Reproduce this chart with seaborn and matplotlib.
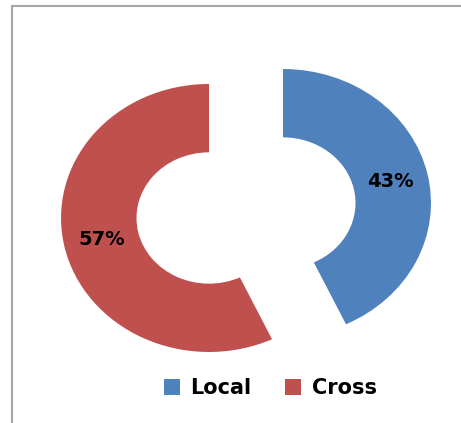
import matplotlib
matplotlib.use("Agg")
import matplotlib.pyplot as plt
from matplotlib.patches import Rectangle
from matplotlib.lines import Line2D
import seaborn as sns

# Share of links by type
categories = ["Local", "Cross"]
shares = [43, 57]
colors = ["#4F81BD", "#C0504D"]

sns.set_theme(style="white")
plt.rcParams["font.family"] = ["DejaVu Sans"]

W, H = 461, 423
fig = plt.figure(figsize=(W / 100, H / 100), dpi=100)
fig.patch.set_facecolor("white")

ax = fig.add_axes([0, 0, 1, 1])
wedges, texts, autotexts = ax.pie(
    shares,
    colors=colors,
    startangle=90,
    counterclock=False,
    explode=[0.256, 0.256],
    autopct="%.0f%%",
    pctdistance=0.745,
    wedgeprops=dict(width=0.51, linewidth=0),
    textprops=dict(fontsize=14, fontweight="heavy", color="black"),
)
# the plotted pie is wider than it is tall
ax.set_aspect("auto")
rx, ry = 148.0, 134.0
cx, cy = 246.0, 210.5
ax.set_xlim(-cx / rx, (W - cx) / rx)
ax.set_ylim(-(H - cy) / ry, cy / ry)
ax.axis("off")

# outer frame (runs off the right and bottom edges)
frame = Rectangle((11.5 / W, -0.05), 1.2, 1 - 6.5 / H + 0.05,
                  transform=fig.transFigure, fill=False,
                  edgecolor="#A6A6A6", linewidth=1.5)
fig.patches.append(frame)

handles = [Line2D([0], [0], marker="s", linestyle="none", markersize=11,
                  markerfacecolor=c, markeredgewidth=0) for c in colors]
leg = fig.legend(handles, categories, loc="center",
                 bbox_to_anchor=(270 / W, 1 - 388 / H), ncol=2, frameon=False,
                 prop=dict(size=15, weight="heavy"), handletextpad=0.5,
                 columnspacing=1.6, handlelength=0.8)
for t in leg.get_texts():
    t.set_color("black")

fig.savefig("out.png", dpi=100)
